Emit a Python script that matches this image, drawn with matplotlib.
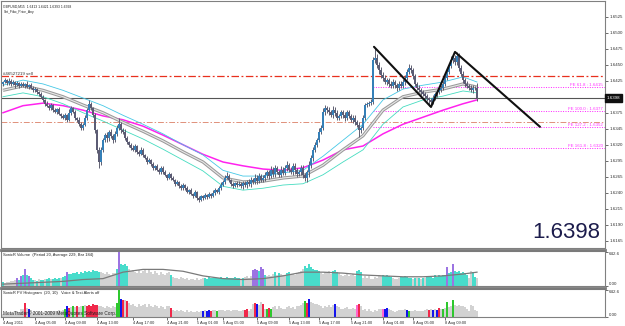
import numpy as np
import matplotlib
matplotlib.use("Agg")
import matplotlib.pyplot as plt
import matplotlib.transforms as mtransforms
from matplotlib.lines import Line2D

plt.rcParams['font.family'] = ['Liberation Sans', 'DejaVu Sans']

# ---------------- data ----------------
first_open = 1.6420
closes = [
1.6423,1.6426,1.6421,1.6425,1.6420,1.6423,1.6418,1.6421,1.6417,1.6420,
1.6417,1.6420,1.6415,1.6418,1.6414,1.6410,1.6412,1.6407,1.6404,1.6400,
1.6395,1.6389,1.6386,1.6382,1.6387,1.6379,1.6376,1.6381,1.6373,1.6370,
1.6367,1.6371,1.6364,1.6375,1.6382,1.6376,1.6367,1.6364,1.6357,1.6351,
1.6356,1.6367,1.6379,1.6389,1.6382,1.6371,1.6348,1.6317,1.6298,1.6317,
1.6332,1.6340,1.6335,1.6345,1.6339,1.6332,1.6342,1.6351,1.6357,1.6348,
1.6345,1.6335,1.6329,1.6325,1.6320,1.6317,1.6323,1.6314,1.6311,1.6317,
1.6309,1.6304,1.6298,1.6301,1.6295,1.6289,1.6292,1.6286,1.6282,1.6289,
1.6282,1.6278,1.6273,1.6279,1.6273,1.6270,1.6264,1.6267,1.6261,1.6257,
1.6262,1.6257,1.6251,1.6254,1.6248,1.6245,1.6251,1.6242,1.6239,1.6245,
1.6242,1.6246,1.6243,1.6248,1.6245,1.6250,1.6254,1.6251,1.6257,1.6262,
1.6267,1.6273,1.6276,1.6270,1.6264,1.6261,1.6265,1.6262,1.6264,1.6261,
1.6265,1.6262,1.6267,1.6264,1.6270,1.6267,1.6273,1.6268,1.6276,1.6270,
1.6273,1.6278,1.6282,1.6276,1.6286,1.6279,1.6289,1.6282,1.6278,1.6286,
1.6281,1.6289,1.6293,1.6286,1.6282,1.6292,1.6286,1.6279,1.6282,1.6289,
1.6278,1.6273,1.6282,1.6293,1.6304,1.6317,1.6325,1.6332,1.6345,1.6351,
1.6376,1.6382,1.6379,1.6376,1.6371,1.6379,1.6375,1.6367,1.6370,1.6376,
1.6371,1.6367,1.6376,1.6370,1.6364,1.6367,1.6360,1.6356,1.6348,1.6351,
1.6367,1.6387,1.6389,1.6390,1.6392,1.6457,1.6460,1.6450,1.6442,1.6434,
1.6429,1.6423,1.6426,1.6420,1.6417,1.6423,1.6418,1.6414,1.6420,1.6417,
1.6423,1.6429,1.6439,1.6445,1.6442,1.6432,1.6420,1.6414,1.6410,1.6407,
1.6404,1.6401,1.6398,1.6395,1.6392,1.6398,1.6404,1.6407,1.6410,1.6414,
1.6420,1.6429,1.6439,1.6448,1.6457,1.6460,1.6454,1.6464,1.6445,1.6436,
1.6426,1.6420,1.6417,1.6414,1.6410,1.6414,1.6413,1.6398]

wick_up_pips = [
2,3,2,4,2,3,2,3,2,3, 3,2,4,2,3,2,3,2,2,3, 3,2,4,2,3,2,4,2,3,2,
3,4,2,6,3,2,3,2,4,3, 3,4,3,6,3,2,3,2,4,5, 4,3,5,3,4,3,4,5,10,4,
3,4,3,2,3,4,3,2,3,4, 3,2,3,4,2,3,2,3,2,3, 2,3,2,4,2,3,2,3,2,3,
3,2,3,2,3,2,3,2,3,2, 2,3,2,3,2,4,3,2,3,4, 3,4,6,3,2,3,2,3,5,3,
3,4,3,5,4,3,6,4,5,4, 4,5,4,3,6,4,5,3,4,5, 4,5,6,3,4,5,4,3,4,5,
4,3,4,6,5,4,5,4,6,5, 6,5,4,5,4,6,5,4,3,4, 4,5,3,4,3,4,5,3,4,4,
4,3,3,4,5,5,16,6,5,4, 4,5,4,3,4,5,3,4,5,4, 4,5,4,6,4,3,4,3,4,3,
3,4,3,2,3,4,3,4,3,4, 4,5,4,5,6,4,5,6,4,5, 4,3,4,3,4,5,3,8]

wick_dn_pips = [
3,2,3,2,3,2,4,2,3,2, 2,3,2,3,2,3,2,3,3,2, 3,3,2,3,2,3,2,3,2,3,
2,3,3,2,3,2,3,3,2,3, 3,2,3,2,3,3,4,5,9,4, 4,3,5,4,3,4,3,4,3,4,
3,2,3,4,3,2,3,4,3,2, 3,2,3,2,3,4,3,2,3,2, 3,2,3,2,3,2,3,2,3,2,
2,3,2,3,2,3,2,4,3,2, 3,2,3,2,3,2,3,2,3,2, 2,3,2,3,4,3,2,3,2,4,
5,3,4,3,5,4,3,4,3,4, 3,4,5,4,3,5,4,3,4,3, 4,3,5,4,3,4,6,4,3,4,
5,4,6,8,5,4,3,4,3,4, 3,4,5,4,3,4,5,4,3,4, 4,5,4,3,4,5,4,4,11,4,
3,4,3,4,3,3,4,5,6,5, 4,3,4,5,4,3,4,5,4,3, 3,4,3,4,5,4,3,4,3,4,
3,4,5,9,7,4,3,4,3,3, 3,4,3,4,3,4,5,4,5,4, 4,5,3,4,3,4,3,5]

# indicator lines, sampled at these bars
ma_bars = [0,10,20,30,40,50,60,70,80,90,100,110,120,130,140,150,160,170,180,190,200,210,220,230,237]
ma_magenta = [1.6375,1.6386,1.6390,1.6386,1.6379,1.6370,1.6364,1.6354,1.6340,1.6325,1.6310,1.6298,1.6292,
              1.6287,1.6285,1.6289,1.6301,1.6317,1.6323,1.6342,1.6357,1.6368,1.6379,1.6389,1.6395]
ma_gray = [1.6410,1.6417,1.6410,1.6400,1.6387,1.6375,1.6360,1.6346,1.6331,1.6314,1.6298,1.6273,1.6267,
           1.6268,1.6273,1.6276,1.6293,1.6317,1.6339,1.6379,1.6400,1.6407,1.6412,1.6420,1.6415]
ma_cyan_up = [1.6418,1.6426,1.6420,1.6410,1.6398,1.6386,1.6371,1.6357,1.6342,1.6325,1.6309,1.6285,1.6276,
              1.6276,1.6281,1.6285,1.6307,1.6332,1.6357,1.6395,1.6412,1.6418,1.6423,1.6431,1.6423]
ma_cyan_dn = [1.6400,1.6406,1.6400,1.6389,1.6375,1.6362,1.6348,1.6334,1.6318,1.6301,1.6284,1.6260,1.6254,
              1.6257,1.6262,1.6264,1.6278,1.6298,1.6317,1.6357,1.6384,1.6395,1.6401,1.6409,1.6406]

# trend lines (zigzag) drawn by Set_Fibo_Price_Any
zig_bars = [185.5, 214, 226, 268.5]
zig_prices = [1.6478, 1.6384, 1.6470, 1.6353]

fe_start_bar = 185
fe_levels = [1.6415, 1.6377, 1.6352, 1.6320]
fe_labels = ["FE 61.8 : 1.6415", "FE 100.0 : 1.6377", "FE 127.2 : 1.6352", "FE 161.8 : 1.6320"]
sell_price = 1.6432
sell_label = "#46527219 sell"
pivot_price = 1.6361
last_price = 1.6398

price_ticks = [1.6525,1.6500,1.6475,1.6450,1.6425,1.6375,1.6350,1.6325,1.6300,1.6275,1.6250,1.6225,1.6200,1.6175]
price_tick_labels = ["1.6525","1.6500","1.6475","1.6450","1.6425","1.6375","1.6345","1.6320",
                     "1.6295","1.6265","1.6240","1.6215","1.6190","1.6165"]

time_tick_bars = [0,16,31,47,65,82,97,110,127,143,158,174,190,205,221]
time_tick_labels = ["4 Aug 2011","4 Aug 05:00","4 Aug 09:00","4 Aug 13:00","4 Aug 17:00","4 Aug 21:00",
                    "5 Aug 01:00","5 Aug 05:00","5 Aug 09:00","5 Aug 13:00","5 Aug 17:00","5 Aug 21:00",
                    "8 Aug 01:00","8 Aug 05:00","8 Aug 09:00"]

volume = [
70,60,80,70,100,90,110,150,120,180, 200,330,210,180,160,120,110,100,130,120,
120,140,130,150,140,130,150,140,160,150, 170,180,260,220,230,250,240,260,230,270,
250,280,260,290,270,300,280,290,270,260, 240,220,260,230,210,250,240,330,640,420,
400,410,380,330,280,300,260,240,310,250, 280,300,240,320,260,230,290,250,210,260,
230,200,250,270,210,170,150,160,140,170, 150,130,160,120,140,130,110,150,120,140,
150,160,140,170,150,160,170,150,160,170, 160,150,170,160,150,160,170,160,150,140,
160,170,180,150,190,310,330,300,290,350, 320,200,180,210,190,230,260,200,250,220,
200,180,240,260,220,230,200,250,270,280, 330,380,340,420,360,330,300,310,280,250,
220,260,240,280,230,290,300,270,240,200, 180,210,230,190,200,220,180,290,300,260,
160,180,150,190,140,130,170,150,200,180, 200,180,210,190,170,150,130,140,160,170,
170,180,170,150,150,140,160,150,150,140, 150,160,180,170,190,160,200,170,210,190,
200,210,350,240,260,415,290,270,280,250, 260,240,200,150,280,270,170,150]

vol_avg = [35,52,69,87,122,139,261,313,313,278,191,139,122,139,191,261,261,243,208,191,174,174,191,226,261]

vol_colors = ("t" "gggggg" "ptptptpt" "tgtgttg" "ttgttttgtt" "p" "tttttttttttttttt" "gggggggg"
              "t" "p" "tttt" "ggggggggggggggggggggg" "t" "gggggggggggggggg" "tttttttttttttttttt"
              "g" "t" "gggg" "pppt" "ppt" "gggg" "t" "g" "t" "ggg" "tt" "ggggggg" "ttttttt" "t"
              "gggggg" "ttt" "ggggggggg" "ttt" "gggggggggg" "ttttt" "gggg" "ttttt" "tgtgtgtg"
              "tttttttttt" "p" "tt" "p" "ttttttt" "gg" "tt" "g")

pv_marks = {11:'r', 13:'b', 31:'G', 32:'b', 33:'r', 35:'G', 37:'r', 40:'G', 42:'r', 43:'r', 44:'r',
            45:'r', 46:'r', 47:'r', 57:'G', 58:'G', 59:'b', 60:'r', 62:'r', 84:'r', 100:'b', 102:'b',
            103:'b', 104:'r', 107:'G', 121:'r', 122:'r', 126:'r', 127:'b', 130:'r', 132:'G', 133:'r',
            134:'G', 151:'G', 152:'r', 153:'b', 166:'b', 177:'m', 178:'r', 190:'m', 191:'b', 192:'b',
            202:'b', 203:'G', 213:'r', 215:'b', 217:'b', 218:'r', 220:'G', 222:'G', 225:'G'}

vol_max_label = 642.6

# ---------------- figure ----------------
W, H = 625, 326
fig = plt.figure(figsize=(W/100, H/100), dpi=100)
fig.patch.set_facecolor('white')

def rect(x0, y0, x1, y1):
    return [x0/W, 1 - y1/H, (x1 - x0)/W, (y1 - y0)/H]

ax = fig.add_axes(rect(1, 1, 605, 248))
ax1 = fig.add_axes(rect(1, 251, 605, 286), sharex=ax)
ax2 = fig.add_axes(rect(1, 289, 605, 317), sharex=ax)

n = len(closes)
idx = np.arange(n)
c = np.array(closes)
o = np.array([first_open] + closes[:-1])
hi = np.maximum(o, c) + np.array(wick_up_pips) * 0.0001
lo = np.minimum(o, c) - np.array(wick_dn_pips) * 0.0001

spine_col = '#808080'
for a in (ax, ax1, ax2):
    a.set_facecolor('white')
    for s in a.spines.values():
        s.set_color(spine_col)
        s.set_linewidth(0.8)
    a.yaxis.tick_right()
    a.tick_params(axis='y', length=2, width=0.5, colors='#303030', labelsize=3.2, pad=1)

ax.set_xlim(-1, 301)
ax.set_ylim(1.61636, 1.65496)

# horizontal reference lines
ax.axhline(last_price, color='#555555', lw=0.8, zorder=1)
ax.axhline(sell_price, color='#e8301e', lw=0.9, ls=(0, (6, 2, 1.5, 2)), zorder=1)
ax.axhline(pivot_price, color='#e0907a', lw=0.7, ls=(0, (6, 2, 1.5, 2)), zorder=1)
trans = mtransforms.blended_transform_factory(ax.transAxes, ax.transData)
for lev, lab in zip(fe_levels, fe_labels):
    ax.plot([fe_start_bar, 301], [lev, lev], color='#ff22ff', lw=0.7, ls=(0, (1, 1.5)), zorder=1)
    ax.text(0.997, lev + 0.00005, lab, transform=trans, ha='right', va='bottom',
            fontsize=3.2, color='#ff33ff')
ax.text(0.004, sell_price + 0.00008, sell_label, transform=trans, ha='left', va='bottom',
        fontsize=3.2, color='#303030')

# moving averages
ax.plot(ma_bars, ma_magenta, color='#ff22ee', lw=1.1, zorder=2)
ax.plot(ma_bars, ma_cyan_up, color='#45c8e6', lw=0.6, zorder=2)
ax.plot(ma_bars, ma_cyan_dn, color='#45dcc0', lw=0.6, zorder=2)
ax.plot(ma_bars, ma_gray, color='#9a9a9a', lw=2.3, zorder=2, solid_capstyle='butt')
ax.plot(ma_bars, ma_gray, color='#e8e8e8', lw=0.8, zorder=2)

# candles
up = c >= o
ax.vlines(idx, lo, hi, color='#5e5e70', lw=0.7, zorder=3)
body_h = np.maximum(np.abs(c - o), 0.00005)
ax.bar(idx[up], body_h[up], bottom=np.minimum(o, c)[up], width=0.85, color='#3580b8', lw=0, zorder=4)
ax.bar(idx[~up], body_h[~up], bottom=np.minimum(o, c)[~up], width=0.85, color='#5c5c74', lw=0, zorder=4)

# zigzag trend lines
ax.plot(zig_bars, zig_prices, color='#101010', lw=1.5, zorder=5, solid_capstyle='round')

ax.set_yticks(price_ticks)
ax.set_yticklabels(price_tick_labels)
ax.text(1.003, last_price, "1.6398", transform=trans, ha='left', va='center', fontsize=3.2,
        color='white', bbox=dict(boxstyle='square,pad=0.35', fc='#101010', ec='#101010'), clip_on=False)

ax.text(0.004, 0.985, "GBPUSD,M15  1.6413 1.6421 1.6393 1.6398", transform=ax.transAxes,
        ha='left', va='top', fontsize=2.4, color='#202020')
ax.text(0.004, 0.962, "Set_Fibo_Price_Any", transform=ax.transAxes,
        ha='left', va='top', fontsize=2.4, color='#202020')
ax.text(0.9917, 0.02, "1.6398", transform=ax.transAxes, ha='right', va='bottom',
        fontsize=16, color='#1c1c4c')

ax.tick_params(axis='x', bottom=False, labelbottom=False)

# volume panel
vcm = {'g': '#d2d2d2', 't': '#48dccb', 'p': '#9c74e2'}
ax1.bar(idx, volume, width=0.7, color=[vcm[k] for k in vol_colors], lw=0, zorder=2)
ax1.plot(ma_bars, vol_avg, color='#7a7a7a', lw=0.9, zorder=3)
ax1.set_ylim(0, 660)
ax1.set_yticks([vol_max_label, 0])
ax1.set_yticklabels(["642.6", "0.00"])
labs = ax1.get_yticklabels()
labs[0].set_va('top'); labs[1].set_va('bottom')
ax1.tick_params(axis='x', bottom=False, labelbottom=False)
ax1.text(0.004, 0.88, "SonicR Volume  (Period 20, Average 229, Bar 184)", transform=ax1.transAxes,
         ha='left', va='center', fontsize=2.9, color='#202020')

# PV histogram panel
pcm = {'g': '#d2d2d2', 'r': '#f0284a', 'b': '#1414ee', 'G': '#2ec82e', 'm': '#ff66cc'}
pv_cols = [pcm[pv_marks.get(i, 'g')] for i in range(n)]
ax2.bar(idx, volume, width=0.7, color=pv_cols, lw=0, zorder=2)
ax2.set_ylim(0, 665)
ax2.set_yticks([vol_max_label, 0])
ax2.set_yticklabels(["642.6", "0.00"])
labs = ax2.get_yticklabels()
labs[0].set_va('top'); labs[1].set_va('bottom')
ax2.text(0.004, 0.86, "SonicR PV Histogram  (20, 10)   Voice & Text Alerts off", transform=ax2.transAxes,
         ha='left', va='center', fontsize=2.9, color='#202020')
ax2.text(0.004, 0.14, "MetaTrader\u00a9 2001-2009 MetaQuotes Software Corp.", transform=ax2.transAxes,
         ha='left', va='center', fontsize=3.4, color='#202020', zorder=5)

ax2.set_xticks(time_tick_bars)
ax2.set_xticklabels(time_tick_labels)
ax2.tick_params(axis='x', length=2, width=0.5, colors='#303030', labelsize=2.9, pad=0.8)
for t in ax2.get_xticklabels():
    t.set_ha('left')

# thick separators between panels
for ysep in (249.5, 287.5):
    fig.add_artist(Line2D([1/W, 605/W], [1 - ysep/H]*2, color='#7a7a7a', lw=2.0,
                          transform=fig.transFigure))

fig.savefig("out.png", dpi=100, facecolor='white')
